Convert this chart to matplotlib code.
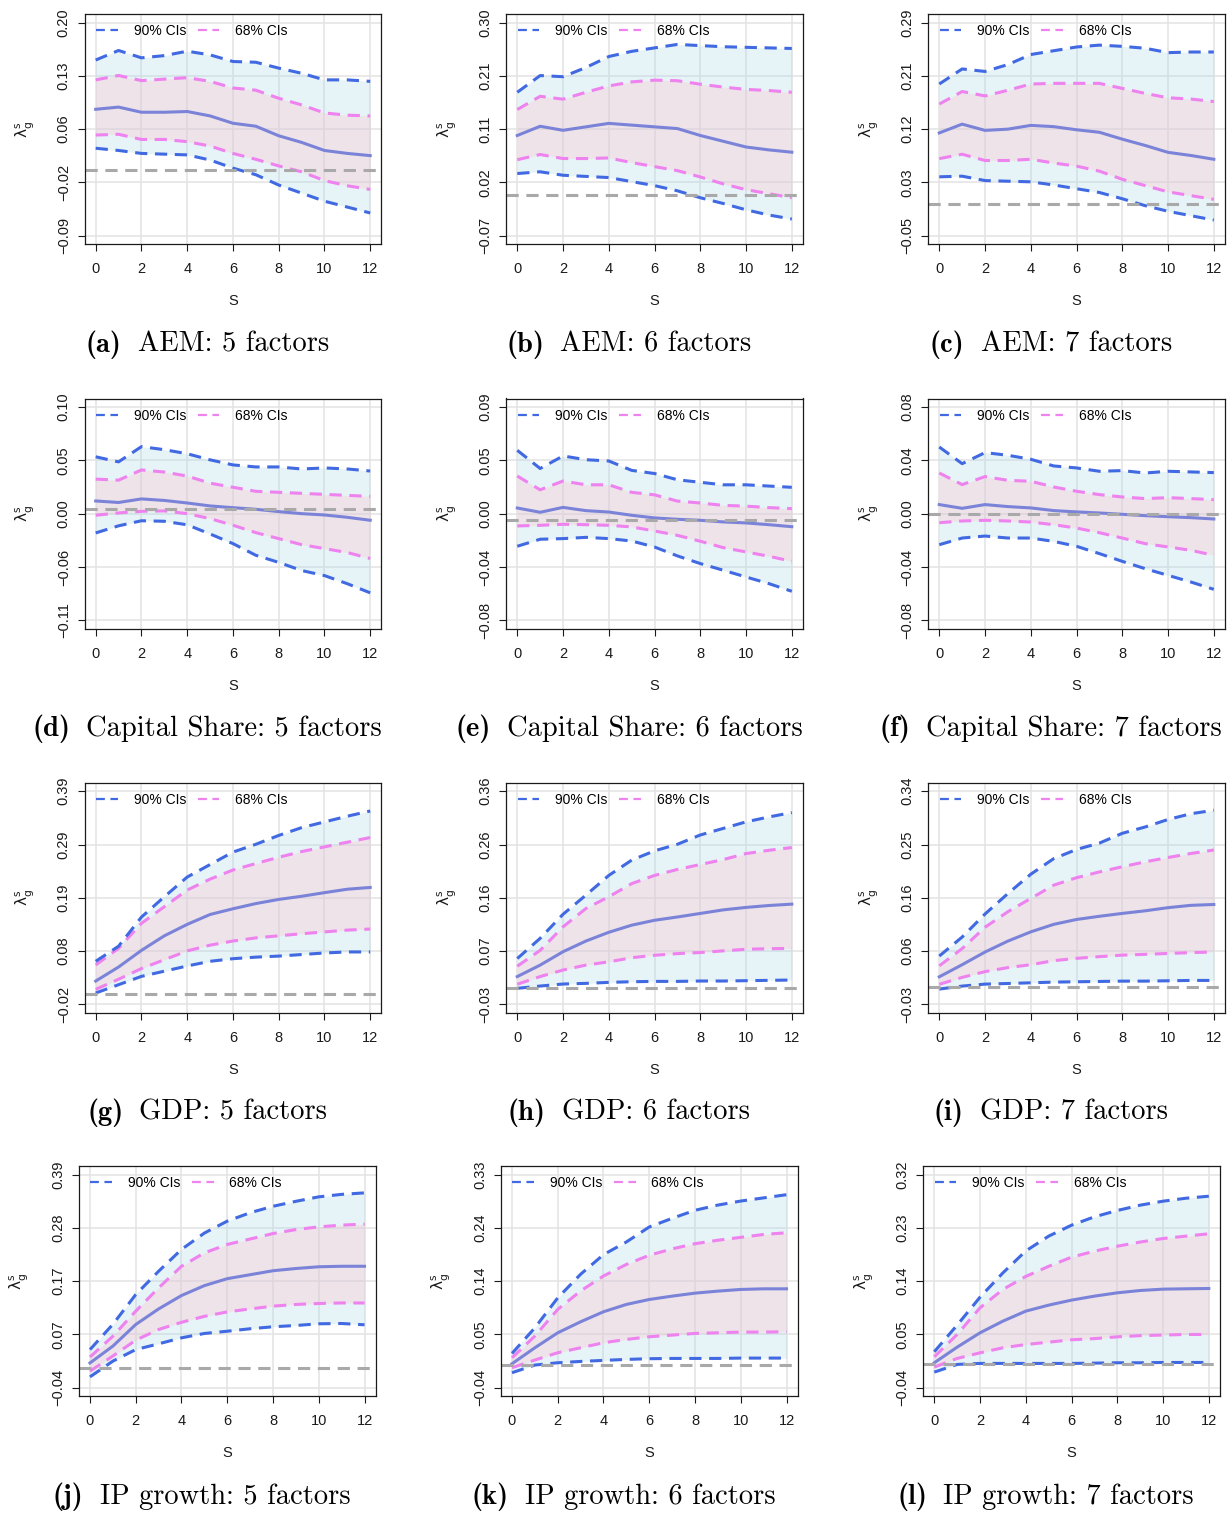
import numpy as np
import matplotlib
matplotlib.use("Agg")
import matplotlib.pyplot as plt
from matplotlib.lines import Line2D

plt.rcParams["font.family"] = ["Liberation Sans", "DejaVu Sans"]

# horizon s = 0..12
S = np.arange(13)

# ---------------- AEM ----------------
aem5_up90 = [0.149, 0.162, 0.152, 0.155, 0.161, 0.156, 0.147, 0.146, 0.138, 0.131, 0.122, 0.122, 0.120]
aem5_up68 = [0.122, 0.128, 0.121, 0.123, 0.125, 0.120, 0.111, 0.108, 0.097, 0.088, 0.077, 0.074, 0.073]
aem5_med  = [0.082, 0.085, 0.078, 0.078, 0.079, 0.073, 0.063, 0.059, 0.046, 0.037, 0.026, 0.022, 0.019]
aem5_lo68 = [0.047, 0.048, 0.041, 0.041, 0.038, 0.032, 0.022, 0.014, 0.005, -0.003, -0.015, -0.022, -0.027]
aem5_lo90 = [0.029, 0.026, 0.022, 0.021, 0.020, 0.013, 0.002, -0.007, -0.021, -0.032, -0.043, -0.051, -0.059]

aem6_up90 = [0.179, 0.208, 0.206, 0.222, 0.241, 0.250, 0.256, 0.262, 0.260, 0.258, 0.257, 0.256, 0.255]
aem6_up68 = [0.149, 0.172, 0.167, 0.179, 0.190, 0.197, 0.200, 0.199, 0.193, 0.188, 0.184, 0.182, 0.179]
aem6_med  = [0.104, 0.120, 0.113, 0.119, 0.125, 0.122, 0.119, 0.116, 0.104, 0.094, 0.084, 0.079, 0.075]
aem6_lo68 = [0.062, 0.071, 0.064, 0.064, 0.065, 0.057, 0.050, 0.043, 0.032, 0.020, 0.010, 0.003, -0.004]
aem6_lo90 = [0.038, 0.041, 0.035, 0.033, 0.031, 0.024, 0.017, 0.008, -0.004, -0.014, -0.025, -0.034, -0.041]

aem7_up90 = [0.192, 0.216, 0.212, 0.223, 0.239, 0.245, 0.251, 0.254, 0.252, 0.249, 0.242, 0.243, 0.243]
aem7_up68 = [0.160, 0.180, 0.173, 0.182, 0.192, 0.193, 0.193, 0.193, 0.185, 0.177, 0.170, 0.168, 0.164]
aem7_med  = [0.114, 0.128, 0.118, 0.120, 0.126, 0.124, 0.119, 0.115, 0.104, 0.094, 0.083, 0.078, 0.072]
aem7_lo68 = [0.073, 0.080, 0.070, 0.070, 0.072, 0.066, 0.061, 0.053, 0.040, 0.030, 0.020, 0.014, 0.008]
aem7_lo90 = [0.044, 0.045, 0.038, 0.037, 0.036, 0.031, 0.025, 0.019, 0.009, -0.002, -0.011, -0.018, -0.025]

# ---------------- Capital Share ----------------
cs5_up90 = [0.051, 0.046, 0.061, 0.058, 0.054, 0.048, 0.043, 0.041, 0.041, 0.039, 0.040, 0.039, 0.037]
cs5_up68 = [0.029, 0.028, 0.038, 0.036, 0.032, 0.025, 0.021, 0.017, 0.016, 0.015, 0.014, 0.013, 0.012]
cs5_med  = [0.0075, 0.006, 0.0095, 0.008, 0.0055, 0.0026, 0.0009, -0.0007, -0.003, -0.005, -0.0063, -0.0086, -0.0115]
cs5_lo68 = [-0.0066, -0.0043, -0.0027, -0.0023, -0.005, -0.0099, -0.0164, -0.0237, -0.0296, -0.0355, -0.0394, -0.0433, -0.0492]
cs5_lo90 = [-0.024, -0.017, -0.012, -0.0125, -0.016, -0.025, -0.0345, -0.046, -0.053, -0.061, -0.066, -0.074, -0.083]

cs6_up90 = [0.0555, 0.041, 0.051, 0.048, 0.047, 0.0395, 0.037, 0.032, 0.030, 0.028, 0.028, 0.027, 0.026]
cs6_up68 = [0.035, 0.024, 0.031, 0.028, 0.028, 0.022, 0.020, 0.015, 0.0135, 0.0116, 0.011, 0.0098, 0.009]
cs6_med  = [0.0095, 0.0061, 0.010, 0.0074, 0.0063, 0.0037, 0.0016, 0.0005, -0.0003, -0.0016, -0.0024, -0.0038, -0.0054]
cs6_lo68 = [-0.0048, -0.0043, -0.0035, -0.0038, -0.0043, -0.0056, -0.0088, -0.0123, -0.017, -0.0221, -0.0255, -0.029, -0.033]
cs6_lo90 = [-0.021, -0.0154, -0.0149, -0.0139, -0.0149, -0.0168, -0.0216, -0.0287, -0.0348, -0.0401, -0.0455, -0.0508, -0.0569]

cs7_up90 = [0.050, 0.0375, 0.0458, 0.0438, 0.0408, 0.0358, 0.0343, 0.0318, 0.0323, 0.0305, 0.0318, 0.0313, 0.0308]
cs7_up68 = [0.0305, 0.0218, 0.0278, 0.025, 0.0243, 0.020, 0.0168, 0.0143, 0.0125, 0.0113, 0.012, 0.0113, 0.0105]
cs7_med  = [0.0068, 0.004, 0.0068, 0.0053, 0.0043, 0.0023, 0.0013, 0.0005, -0.0005, -0.0015, -0.0023, -0.003, -0.004]
cs7_lo68 = [-0.0068, -0.0055, -0.005, -0.0055, -0.0063, -0.0083, -0.0108, -0.0143, -0.0183, -0.0225, -0.025, -0.0275, -0.0313]
cs7_lo90 = [-0.0233, -0.0183, -0.0168, -0.0183, -0.0183, -0.0208, -0.0245, -0.030, -0.0358, -0.0413, -0.0463, -0.0513, -0.0568]

# ---------------- GDP ----------------
gdp5_up90 = [0.063, 0.092, 0.148, 0.187, 0.225, 0.249, 0.273, 0.288, 0.305, 0.320, 0.331, 0.342, 0.352]
gdp5_up68 = [0.056, 0.088, 0.136, 0.168, 0.200, 0.221, 0.2385, 0.251, 0.263, 0.274, 0.283, 0.292, 0.301]
gdp5_med  = [0.025, 0.052, 0.084, 0.112, 0.134, 0.153, 0.164, 0.174, 0.182, 0.188, 0.195, 0.2016, 0.205]
gdp5_lo68 = [0.009, 0.0285, 0.049, 0.066, 0.083, 0.094, 0.102, 0.108, 0.112, 0.116, 0.1195, 0.123, 0.125]
gdp5_lo90 = [0.002, 0.018, 0.034, 0.044, 0.054, 0.063, 0.068, 0.071, 0.073, 0.076, 0.079, 0.081, 0.081]

gdp6_up90 = [0.054, 0.091, 0.135, 0.170, 0.206, 0.234, 0.251, 0.263, 0.280, 0.292, 0.304, 0.313, 0.321]
gdp6_up68 = [0.040, 0.069, 0.112, 0.1455, 0.167, 0.191, 0.206, 0.217, 0.226, 0.235, 0.246, 0.252, 0.257]
gdp6_med  = [0.021, 0.042, 0.0665, 0.086, 0.102, 0.115, 0.124, 0.130, 0.1365, 0.143, 0.1475, 0.151, 0.1535]
gdp6_lo68 = [0.007, 0.021, 0.033, 0.042, 0.048, 0.0555, 0.060, 0.063, 0.065, 0.068, 0.071, 0.072, 0.0725]
gdp6_lo90 = [-0.0005, 0.0037, 0.0074, 0.0086, 0.0104, 0.0116, 0.0122, 0.0122, 0.0129, 0.0129, 0.0135, 0.0141, 0.0147]

gdp7_up90 = [0.054, 0.087, 0.127, 0.1625, 0.196, 0.223, 0.239, 0.250, 0.267, 0.278, 0.291, 0.301, 0.307]
gdp7_up68 = [0.037, 0.067, 0.104, 0.131, 0.154, 0.177, 0.190, 0.200, 0.209, 0.2175, 0.225, 0.232, 0.238]
gdp7_med  = [0.018, 0.039, 0.061, 0.080, 0.096, 0.109, 0.1175, 0.123, 0.128, 0.1325, 0.138, 0.142, 0.1435]
gdp7_lo68 = [0.005, 0.017, 0.027, 0.034, 0.039, 0.046, 0.050, 0.053, 0.0556, 0.057, 0.0585, 0.060, 0.061]
gdp7_lo90 = [-0.0033, 0.0019, 0.0053, 0.0064, 0.0076, 0.0088, 0.0094, 0.0099, 0.0105, 0.0105, 0.0111, 0.0117, 0.0117]

# ---------------- IP growth ----------------
ip5_up90 = [0.037, 0.088, 0.148, 0.195, 0.239, 0.272, 0.296, 0.313, 0.326, 0.336, 0.345, 0.350, 0.353]
ip5_up68 = [0.022, 0.064, 0.1145, 0.1615, 0.205, 0.232, 0.249, 0.260, 0.271, 0.279, 0.2845, 0.288, 0.290]
ip5_med  = [0.010, 0.044, 0.0876, 0.119, 0.146, 0.166, 0.180, 0.188, 0.196, 0.2005, 0.204, 0.205, 0.205]
ip5_lo68 = [-0.0065, 0.024, 0.056, 0.0775, 0.092, 0.104, 0.113, 0.119, 0.1246, 0.128, 0.130, 0.131, 0.131]
ip5_lo90 = [-0.018, 0.0137, 0.037, 0.0486, 0.0607, 0.0695, 0.074, 0.079, 0.083, 0.0856, 0.089, 0.0896, 0.087]

ip6_up90 = [0.0196, 0.064, 0.116, 0.157, 0.191, 0.213, 0.239, 0.254, 0.268, 0.277, 0.284, 0.2895, 0.295]
ip6_up68 = [0.012, 0.0497, 0.096, 0.128, 0.154, 0.174, 0.190, 0.201, 0.210, 0.216, 0.221, 0.226, 0.229]
ip6_med  = [0.0017, 0.0294, 0.0554, 0.0745, 0.0919, 0.1046, 0.1132, 0.119, 0.1242, 0.1277, 0.1306, 0.1317, 0.1317]
ip6_lo68 = [-0.0052, 0.0081, 0.0208, 0.0294, 0.0381, 0.0439, 0.0485, 0.0514, 0.0543, 0.0554, 0.0566, 0.0566, 0.0572]
ip6_lo90 = [-0.0139, -0.0006, 0.0034, 0.0057, 0.0075, 0.0092, 0.0104, 0.0109, 0.0109, 0.0109, 0.0115, 0.0115, 0.0115]

ip7_up90 = [0.0208, 0.0658, 0.113, 0.154, 0.191, 0.216, 0.2345, 0.2486, 0.2593, 0.2683, 0.275, 0.280, 0.2834]
ip7_up68 = [0.0123, 0.050, 0.095, 0.126, 0.148, 0.165, 0.1805, 0.1906, 0.199, 0.206, 0.212, 0.216, 0.220]
ip7_med  = [0.0022, 0.0286, 0.0528, 0.0725, 0.0894, 0.0995, 0.108, 0.1147, 0.1203, 0.1242, 0.1265, 0.1271, 0.1276]
ip7_lo68 = [-0.0051, 0.0095, 0.019, 0.0275, 0.033, 0.037, 0.041, 0.043, 0.046, 0.048, 0.049, 0.050, 0.050]
ip7_lo90 = [-0.0136, -0.0006, 0.0011, 0.0011, 0.0011, 0.0011, 0.0011, 0.0016, 0.0022, 0.0022, 0.0027, 0.0027, 0.0027]

# y-axis ranges (first and last tick) and the rounded tick labels
y_ranges = [(-0.09, 0.20), (-0.07, 0.30), (-0.05, 0.29),
            (-0.11, 0.10), (-0.08, 0.09), (-0.08, 0.08),
            (-0.02, 0.39), (-0.03, 0.36), (-0.03, 0.34),
            (-0.04, 0.39), (-0.04, 0.33), (-0.04, 0.32)]
y_ticklabels = [
    ["\u22120.09", "\u22120.02", "0.06", "0.13", "0.20"],
    ["\u22120.07", "0.02", "0.11", "0.21", "0.30"],
    ["\u22120.05", "0.03", "0.12", "0.21", "0.29"],
    ["\u22120.11", "\u22120.06", "0.00", "0.05", "0.10"],
    ["\u22120.08", "\u22120.04", "0.00", "0.05", "0.09"],
    ["\u22120.08", "\u22120.04", "0.00", "0.04", "0.08"],
    ["\u22120.02", "0.08", "0.19", "0.29", "0.39"],
    ["\u22120.03", "0.07", "0.16", "0.26", "0.36"],
    ["\u22120.03", "0.06", "0.16", "0.25", "0.34"],
    ["\u22120.04", "0.07", "0.17", "0.28", "0.39"],
    ["\u22120.04", "0.05", "0.14", "0.24", "0.33"],
    ["\u22120.04", "0.05", "0.14", "0.23", "0.32"],
]
x_ticks = [0, 2, 4, 6, 8, 10, 12]

tags = ["(a)", "(b)", "(c)", "(d)", "(e)", "(f)", "(g)", "(h)", "(i)", "(j)", "(k)", "(l)"]
variables = ["AEM", "Capital Share", "GDP", "IP growth"]
factor_counts = [5, 6, 7]

series = [
    (aem5_up90, aem5_up68, aem5_med, aem5_lo68, aem5_lo90),
    (aem6_up90, aem6_up68, aem6_med, aem6_lo68, aem6_lo90),
    (aem7_up90, aem7_up68, aem7_med, aem7_lo68, aem7_lo90),
    (cs5_up90, cs5_up68, cs5_med, cs5_lo68, cs5_lo90),
    (cs6_up90, cs6_up68, cs6_med, cs6_lo68, cs6_lo90),
    (cs7_up90, cs7_up68, cs7_med, cs7_lo68, cs7_lo90),
    (gdp5_up90, gdp5_up68, gdp5_med, gdp5_lo68, gdp5_lo90),
    (gdp6_up90, gdp6_up68, gdp6_med, gdp6_lo68, gdp6_lo90),
    (gdp7_up90, gdp7_up68, gdp7_med, gdp7_lo68, gdp7_lo90),
    (ip5_up90, ip5_up68, ip5_med, ip5_lo68, ip5_lo90),
    (ip6_up90, ip6_up68, ip6_med, ip6_lo68, ip6_lo90),
    (ip7_up90, ip7_up68, ip7_med, ip7_lo68, ip7_lo90),
]

# ---------------- layout (pixels) ----------------
W, H = 1232, 1513
AX_W, AX_H = 296.5, 230.3
row_tops = [14.0, 398.5, 782.7, 1166.0]
col_lefts = [84.7, 506.3, 928.3]
col_lefts_last = [79.0, 501.0, 923.3]
caption_base = [352, 736, 1120, 1504]
CAP_FS = 20.5
CAP_GAP = 16.0

C90 = "#4169e1"
C68 = "#ee82ee"
CMED = "#7b83d9"
DASH = (0, (4, 2.5))

fig = plt.figure(figsize=(W / 100, H / 100), dpi=100)
renderer = fig.canvas.get_renderer()

for k, (up90, up68, med, lo68, lo90) in enumerate(series):
    r, c = divmod(k, 3)
    left = (col_lefts_last if r == 3 else col_lefts)[c]
    top = row_tops[r]
    ax = fig.add_axes([left / W, 1 - (top + AX_H) / H, AX_W / W, AX_H / H])

    lo, hi = y_ranges[k]
    ext = 0.04 * (hi - lo)
    ax.set_xlim(-0.48, 12.48)
    ax.set_ylim(lo - ext, hi + ext)
    ax.set_yticks(np.linspace(lo, hi, 5))
    ax.set_yticklabels(y_ticklabels[k], rotation=90, va="center")
    ax.set_xticks(x_ticks)
    ax.tick_params(direction="out", length=5, width=0.8, labelsize=10.5,
                   colors="#1a1a1a")
    ax.tick_params(axis="x", pad=8)
    ax.tick_params(axis="y", pad=5)
    ax.grid(True, color="#e3e3e3", lw=1.1)
    ax.set_axisbelow(True)
    for sp in ax.spines.values():
        sp.set_linewidth(0.9)
        sp.set_color("#1a1a1a")

    ax.fill_between(S, lo90, up90, color="#add8e6", alpha=0.3, lw=0, zorder=1)
    ax.fill_between(S, lo68, up68, color="#ffc0cb", alpha=0.3, lw=0, zorder=1.1)
    ax.plot(S, up90, color=C90, lw=2.2, ls=DASH, zorder=2.2)
    ax.plot(S, lo90, color=C90, lw=2.2, ls=DASH, zorder=2.2)
    ax.plot(S, up68, color=C68, lw=2.2, ls=DASH, zorder=2.1)
    ax.plot(S, lo68, color=C68, lw=2.2, ls=DASH, zorder=2.1)
    ax.plot(S, med, color=CMED, lw=2.2, zorder=2.3)
    ax.axhline(0, color="#a9a9a9", lw=2.2, ls=DASH, zorder=2.5)

    key90 = Line2D([], [], color=C90, lw=1.6, ls=(0, (4, 2.5)))
    key68 = Line2D([], [], color=C68, lw=1.6, ls=(0, (4, 2.5)))
    ax.legend(handles=[key90, key68], labels=["90% CIs", "68% CIs"],
              loc="center left", bbox_to_anchor=(11.3 / AX_W, 1 - 17.0 / AX_H),
              ncol=2, frameon=False, fontsize=10, borderpad=0, borderaxespad=0,
              handlelength=1.55, handletextpad=1.15, columnspacing=0.85)

    ax.set_xlabel("S", fontsize=10.5, color="#1a1a1a", va="center")
    ax.xaxis.set_label_coords(0.5, -57.0 / AX_H)
    ax.set_ylabel(r"$\mathrm{\lambda}_\mathrm{g}^\mathrm{s}$", fontsize=11,
                  color="#1a1a1a", rotation=90, va="center", ha="center")
    ax.yaxis.set_label_coords(-60.0 / AX_W, 0.5)

    # sub-caption: bold tag followed by the panel title, centred as a unit
    yb = 1 - caption_base[r] / H
    t_tag = fig.text(0, yb, tags[k], fontsize=CAP_FS, family="cmb10",
                     va="baseline", ha="left")
    t_txt = fig.text(0, yb, "%s: %d factors" % (variables[r], factor_counts[c]),
                     fontsize=CAP_FS, family="cmr10", va="baseline", ha="left")
    w_tag = t_tag.get_window_extent(renderer).width
    w_txt = t_txt.get_window_extent(renderer).width
    x0 = left + 122.5 - (w_tag + CAP_GAP + w_txt) / 2
    t_tag.set_x(x0 / W)
    t_txt.set_x((x0 + w_tag + CAP_GAP) / W)

fig.savefig("out.png", dpi=100)
